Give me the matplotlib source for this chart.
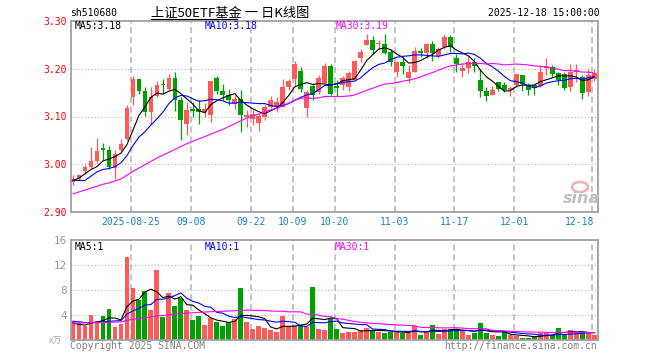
import numpy as np
import matplotlib.pyplot as plt
from matplotlib.lines import Line2D
from matplotlib.patches import Ellipse

# 510680 daily candles, 2025-08-11 .. 2025-12-18 (88 trading days)
opens = [2.963, 2.969, 2.985, 2.994, 3.007, 3.033, 3.030, 2.993, 3.030, 3.052,
         3.141, 3.178, 3.153, 3.110, 3.142, 3.167, 3.158, 3.181, 3.134, 3.085,
         3.116, 3.115, 3.110, 3.103, 3.181, 3.153, 3.144, 3.127, 3.136, 3.098,
         3.094, 3.087, 3.099, 3.120, 3.119, 3.120, 3.162, 3.179, 3.195, 3.117,
         3.163, 3.151, 3.170, 3.205, 3.163, 3.167, 3.162, 3.177, 3.223, 3.250,
         3.261, 3.251, 3.252, 3.236, 3.193, 3.214, 3.181, 3.194, 3.237, 3.233,
         3.252, 3.226, 3.245, 3.266, 3.222, 3.196, 3.201, 3.214, 3.176, 3.153,
         3.144, 3.172, 3.167, 3.155, 3.167, 3.186, 3.165, 3.165, 3.163, 3.202,
         3.203, 3.191, 3.190, 3.162, 3.194, 3.183, 3.151, 3.179]
highs = [2.977, 2.980, 2.999, 3.037, 3.056, 3.045, 3.038, 3.030, 3.053, 3.125,
         3.184, 3.178, 3.162, 3.162, 3.174, 3.179, 3.189, 3.193, 3.141, 3.131,
         3.131, 3.135, 3.128, 3.174, 3.184, 3.169, 3.158, 3.144, 3.155, 3.113,
         3.113, 3.106, 3.124, 3.142, 3.140, 3.179, 3.179, 3.216, 3.203, 3.155,
         3.170, 3.186, 3.212, 3.209, 3.176, 3.184, 3.195, 3.219, 3.242, 3.272,
         3.269, 3.260, 3.272, 3.242, 3.217, 3.224, 3.207, 3.245, 3.244, 3.253,
         3.259, 3.245, 3.272, 3.271, 3.231, 3.210, 3.226, 3.223, 3.200, 3.162,
         3.163, 3.172, 3.172, 3.163, 3.190, 3.186, 3.171, 3.169, 3.207, 3.222,
         3.207, 3.193, 3.193, 3.210, 3.210, 3.186, 3.200, 3.199]
lows = [2.956, 2.967, 2.980, 2.992, 3.002, 3.009, 2.990, 2.969, 3.028, 3.051,
        3.124, 3.147, 3.101, 3.085, 3.140, 3.148, 3.156, 3.112, 3.051, 3.061,
        3.099, 3.085, 3.098, 3.089, 3.148, 3.135, 3.124, 3.116, 3.068, 3.078,
        3.082, 3.069, 3.092, 3.117, 3.110, 3.119, 3.155, 3.163, 3.151, 3.099,
        3.134, 3.148, 3.170, 3.144, 3.142, 3.155, 3.153, 3.176, 3.214, 3.249,
        3.231, 3.242, 3.231, 3.206, 3.183, 3.190, 3.170, 3.193, 3.224, 3.223,
        3.216, 3.223, 3.242, 3.235, 3.193, 3.183, 3.191, 3.193, 3.141, 3.132,
        3.144, 3.153, 3.151, 3.142, 3.162, 3.153, 3.146, 3.145, 3.162, 3.186,
        3.183, 3.165, 3.156, 3.153, 3.172, 3.136, 3.142, 3.174]
closes = [2.969, 2.978, 2.994, 3.007, 3.028, 3.030, 2.995, 3.021, 3.042, 3.117,
          3.178, 3.153, 3.110, 3.141, 3.165, 3.166, 3.181, 3.134, 3.092, 3.113,
          3.112, 3.110, 3.115, 3.174, 3.153, 3.145, 3.134, 3.136, 3.103, 3.103,
          3.105, 3.101, 3.119, 3.134, 3.131, 3.162, 3.174, 3.210, 3.158, 3.151,
          3.144, 3.181, 3.205, 3.148, 3.160, 3.181, 3.192, 3.216, 3.235, 3.260,
          3.240, 3.254, 3.233, 3.214, 3.214, 3.206, 3.194, 3.238, 3.233, 3.251,
          3.233, 3.242, 3.267, 3.245, 3.210, 3.201, 3.214, 3.206, 3.153, 3.142,
          3.155, 3.158, 3.155, 3.160, 3.188, 3.169, 3.155, 3.160, 3.194, 3.206,
          3.188, 3.176, 3.160, 3.193, 3.197, 3.149, 3.186, 3.191]
# volume, x万
volumes = [3.04, 2.67, 2.24, 4.00, 2.67, 3.84, 4.96, 2.08, 2.51, 13.28,
           8.32, 6.40, 7.84, 4.80, 11.20, 3.68, 7.57, 5.44, 6.77, 4.80,
           3.20, 3.84, 2.40, 3.57, 2.93, 2.24, 2.93, 3.30, 8.32, 2.88,
           1.81, 2.24, 1.92, 1.55, 1.33, 3.84, 2.24, 2.24, 2.35, 2.08,
           8.48, 1.81, 1.60, 3.57, 1.76, 1.17, 1.33, 1.33, 1.60, 1.92,
           1.49, 1.33, 1.17, 1.33, 1.33, 1.07, 1.12, 2.24, 0.80, 1.23,
           2.40, 1.01, 1.71, 1.76, 1.76, 1.49, 0.80, 1.12, 2.77, 1.17,
           0.80, 0.64, 1.23, 0.80, 0.64, 0.32, 0.32, 0.53, 1.17, 1.17,
           0.80, 1.97, 0.96, 1.60, 1.12, 1.12, 1.17, 0.85]

# moving averages as shown on the chart (they include days before the window)
ma5 = [2.966, 2.971, 2.980, 2.989, 2.995, 3.007, 3.011, 3.016, 3.023, 3.041,
       3.071, 3.102, 3.120, 3.140, 3.149, 3.147, 3.153, 3.157, 3.148, 3.137,
       3.126, 3.112, 3.108, 3.125, 3.133, 3.139, 3.144, 3.148, 3.134, 3.124,
       3.116, 3.110, 3.106, 3.112, 3.118, 3.129, 3.144, 3.162, 3.167, 3.171,
       3.167, 3.169, 3.168, 3.166, 3.168, 3.175, 3.177, 3.179, 3.197, 3.217,
       3.229, 3.241, 3.244, 3.240, 3.231, 3.224, 3.212, 3.213, 3.217, 3.224,
       3.230, 3.239, 3.245, 3.248, 3.239, 3.233, 3.227, 3.215, 3.197, 3.183,
       3.174, 3.163, 3.153, 3.154, 3.163, 3.166, 3.165, 3.166, 3.173, 3.177,
       3.181, 3.185, 3.185, 3.185, 3.183, 3.175, 3.177, 3.183]
ma10 = [2.966, 2.966, 2.966, 2.975, 2.984, 2.989, 2.991, 2.995, 3.003, 3.018,
        3.039, 3.057, 3.068, 3.082, 3.095, 3.109, 3.127, 3.139, 3.144, 3.143,
        3.137, 3.132, 3.133, 3.136, 3.135, 3.133, 3.128, 3.128, 3.130, 3.129,
        3.128, 3.127, 3.127, 3.123, 3.121, 3.123, 3.127, 3.134, 3.140, 3.145,
        3.148, 3.156, 3.165, 3.166, 3.169, 3.171, 3.173, 3.174, 3.181, 3.192,
        3.202, 3.209, 3.212, 3.219, 3.224, 3.226, 3.227, 3.229, 3.229, 3.228,
        3.227, 3.226, 3.229, 3.232, 3.232, 3.231, 3.233, 3.230, 3.222, 3.211,
        3.204, 3.195, 3.184, 3.175, 3.173, 3.170, 3.164, 3.160, 3.164, 3.170,
        3.173, 3.175, 3.176, 3.179, 3.180, 3.178, 3.181, 3.184]
ma30 = [2.938, 2.942, 2.946, 2.950, 2.954, 2.958, 2.961, 2.965, 2.969, 2.977,
        2.985, 2.992, 2.999, 3.006, 3.013, 3.019, 3.025, 3.031, 3.037, 3.043,
        3.048, 3.053, 3.058, 3.063, 3.068, 3.073, 3.079, 3.085, 3.091, 3.097,
        3.101, 3.105, 3.109, 3.114, 3.117, 3.122, 3.128, 3.134, 3.138, 3.139,
        3.138, 3.139, 3.142, 3.142, 3.142, 3.142, 3.143, 3.145, 3.150, 3.155,
        3.159, 3.164, 3.168, 3.169, 3.171, 3.174, 3.176, 3.179, 3.183, 3.188,
        3.192, 3.197, 3.202, 3.206, 3.208, 3.210, 3.211, 3.211, 3.211, 3.210,
        3.211, 3.210, 3.208, 3.209, 3.210, 3.209, 3.208, 3.206, 3.205, 3.203,
        3.201, 3.199, 3.196, 3.196, 3.195, 3.193, 3.193, 3.191]
vol_ma5 = [2.67, 2.50, 2.40, 2.67, 2.92, 3.08, 3.54, 3.51, 3.21, 5.33,
           6.23, 6.52, 7.67, 8.13, 7.71, 6.78, 7.02, 6.54, 6.93, 5.65,
           5.56, 4.81, 4.20, 3.56, 3.19, 3.00, 2.81, 2.99, 3.94, 3.93,
           3.85, 3.71, 3.43, 2.08, 1.77, 2.18, 2.18, 2.24, 2.40, 2.55,
           3.48, 3.39, 3.26, 3.51, 3.44, 1.98, 1.89, 1.83, 1.44, 1.47,
           1.53, 1.53, 1.50, 1.45, 1.33, 1.25, 1.20, 1.42, 1.31, 1.29,
           1.56, 1.54, 1.43, 1.62, 1.73, 1.55, 1.50, 1.39, 1.59, 1.47,
           1.33, 1.30, 1.32, 0.93, 0.82, 0.73, 0.66, 0.52, 0.60, 0.70,
           0.80, 1.13, 1.21, 1.30, 1.29, 1.35, 1.19, 1.17]
vol_ma10 = [3.00, 2.90, 2.80, 2.80, 2.85, 2.90, 3.00, 3.05, 3.10, 4.13,
            4.66, 5.03, 5.59, 5.67, 6.52, 6.51, 6.77, 7.10, 7.53, 6.68,
            6.17, 5.91, 5.37, 5.25, 4.42, 4.28, 3.81, 3.60, 3.75, 3.56,
            3.42, 3.26, 3.21, 3.01, 2.85, 3.01, 2.94, 2.84, 2.24, 2.16,
            2.83, 2.78, 2.75, 2.95, 3.00, 2.73, 2.64, 2.55, 2.47, 2.46,
            1.76, 1.71, 1.67, 1.44, 1.40, 1.39, 1.37, 1.46, 1.38, 1.31,
            1.40, 1.37, 1.42, 1.47, 1.51, 1.55, 1.52, 1.41, 1.61, 1.60,
            1.44, 1.40, 1.35, 1.26, 1.15, 1.03, 0.98, 0.92, 0.76, 0.76,
            0.76, 0.90, 0.87, 0.95, 1.00, 1.08, 1.16, 1.19]
vol_ma30 = [2.70, 2.72, 2.74, 2.76, 2.78, 2.80, 2.83, 2.86, 2.89, 3.15,
            3.30, 3.42, 3.55, 3.68, 3.85, 3.92, 4.02, 4.12, 4.22, 4.30,
            4.36, 4.42, 4.48, 4.52, 4.56, 4.60, 4.64, 4.68, 4.74, 4.79,
            4.75, 4.74, 4.72, 4.64, 4.60, 4.60, 4.51, 4.51, 4.51, 4.13,
            4.14, 3.99, 3.78, 3.74, 3.42, 3.34, 3.13, 2.99, 2.82, 2.73,
            2.67, 2.59, 2.54, 2.47, 2.42, 2.38, 2.32, 2.28, 2.03, 1.98,
            2.00, 1.95, 1.95, 1.95, 1.97, 1.89, 1.84, 1.81, 1.82, 1.79,
            1.53, 1.49, 1.48, 1.39, 1.35, 1.32, 1.29, 1.26, 1.25, 1.22,
            1.20, 1.22, 1.22, 1.22, 1.22, 1.22, 1.22, 1.17]

date_idx = [10, 20, 30, 37, 44, 54, 64, 74, 87]
date_labels = ['2025-08-25', '09-08', '09-22', '10-09', '10-20',
               '11-03', '11-17', '12-01', '12-18']
price_ticks = [2.90, 3.00, 3.10, 3.20, 3.30]
vol_ticks = [4, 8, 12, 16]

W, H = 660, 360
MONO = 'DejaVu Sans Mono'
RED = '#ff5a5a'
GREEN = '#00a000'
GRID = '#b4b4b4'
FRAME = '#a0a0a0'
BLUE_TXT = '#1a80d0'


def fpos(px, py):
    return px / W, 1 - py / H


n = len(closes)
x = np.arange(n) + 0.33
o = np.array(opens)
c = np.array(closes)
colors = np.where(c >= o, RED, GREEN)

fig = plt.figure(figsize=(W / 100, H / 100), dpi=100)
ax = fig.add_axes([71 / W, 1 - 212 / H, 527 / W, 191 / H])
vax = fig.add_axes([71 / W, 1 - 340 / H, 527 / W, 100 / H])

for a in (ax, vax):
    a.set_xlim(0, 87.95)
    for s in a.spines.values():
        s.set_color(FRAME)
        s.set_linewidth(1.3)
    a.set_xticks([])
    for d in date_idx:
        a.axvline(d, color=GRID, ls=(0, (4, 2.5)), lw=1.1, zorder=0)

# price panel
ax.set_ylim(2.90, 3.30)
for y in price_ticks[1:-1]:
    ax.axhline(y, color=GRID, ls=(0, (1, 2)), lw=0.8, zorder=0)
ax.vlines(x, lows, highs, colors=colors, lw=0.9, zorder=2)
ax.bar(x, np.maximum(np.abs(c - o), 0.0012), width=0.78, bottom=np.minimum(o, c),
       color=colors, linewidth=0, zorder=3)
ax.plot(x, ma5, color='black', lw=0.8, zorder=4)
ax.plot(x, ma10, color='#0000ff', lw=0.8, zorder=4)
ax.plot(x, ma30, color='#ff00ff', lw=0.8, zorder=4)
ax.set_yticks(price_ticks)
ax.set_yticklabels(['%.2f' % t for t in price_ticks], fontfamily=MONO)
ax.tick_params(axis='y', length=0, pad=3, labelsize=7, labelcolor='red')

for d, lab in zip(date_idx, date_labels):
    last = d == date_idx[-1]
    ax.text(d + (0.33 if last else 0), -0.051, lab,
            transform=ax.get_xaxis_transform(), ha='right' if last else 'center',
            va='center', fontsize=7, family=MONO, color=BLUE_TXT)

ax.text(*fpos(75, 26), 'MA5:3.18', transform=fig.transFigure, fontsize=7, family=MONO,
        color='black', va='center')
ax.text(*fpos(205, 26), 'MA10:3.18', transform=fig.transFigure, fontsize=7, family=MONO,
        color='#0000ff', va='center')
ax.text(*fpos(336, 26), 'MA30:3.19', transform=fig.transFigure, fontsize=7, family=MONO,
        color='#ff00ff', va='center')

# volume panel
vax.set_ylim(0, 16)
for y in vol_ticks[:-1]:
    vax.axhline(y, color=GRID, ls=(0, (1, 2)), lw=0.8, zorder=0)
vax.bar(x, volumes, width=0.8, color=colors, linewidth=0, zorder=2)
vax.plot(x, vol_ma5, color='black', lw=0.8, zorder=4)
vax.plot(x, vol_ma10, color='#0000ff', lw=0.8, zorder=4)
vax.plot(x, vol_ma30, color='#ff00ff', lw=0.8, zorder=4)
vax.set_yticks(vol_ticks)
vax.set_yticklabels([str(t) for t in vol_ticks])
vax.tick_params(axis='y', length=0, pad=3, labelsize=7.5, labelcolor='#999999')

vax.text(*fpos(75, 247), 'MA5:1', transform=fig.transFigure, fontsize=7, family=MONO,
         color='black', va='center')
vax.text(*fpos(205, 247), 'MA10:1', transform=fig.transFigure, fontsize=7, family=MONO,
         color='#0000ff', va='center')
vax.text(*fpos(335, 247), 'MA30:1', transform=fig.transFigure, fontsize=7, family=MONO,
         color='#ff00ff', va='center')

# header
fig.text(*fpos(70, 13), 'sh510680', fontsize=7, family=MONO, va='center')
fig.text(*fpos(151, 13), '上证50ETF基金 一 日K线图', fontsize=9.5,
         family=['Noto Sans CJK SC', 'DejaVu Sans'], va='center')
fig.add_artist(Line2D([151 / W, 237 / W], [1 - 19 / H] * 2, color='black', lw=0.8))
fig.text(*fpos(600, 13), '2025-12-18 15:00:00', fontsize=7, family=MONO, va='center', ha='right')

# footer
fig.text(*fpos(56, 341), 'x万', fontsize=6.5, family=['Noto Sans CJK SC', 'DejaVu Sans'],
         color='#aaaaaa', va='center', ha='center')
fig.text(*fpos(70, 346), 'Copyright 2025 SINA.COM', fontsize=7, family=MONO,
         color='#808080', va='center')
fig.text(*fpos(597, 346), 'http://finance.sina.com.cn', fontsize=7, family=MONO,
         color='#808080', va='center', ha='right')

# sina watermark
fig.add_artist(Ellipse(fpos(580, 187), 16 / W, 10 / H, transform=fig.transFigure,
                       facecolor='none', edgecolor='#f4b0b0', lw=1.8))
fig.text(*fpos(581, 198), 'sina', fontsize=11.5, style='italic', weight='bold',
         color='#c0c0c0', va='center', ha='center')

fig.savefig('out.png', dpi=100)
